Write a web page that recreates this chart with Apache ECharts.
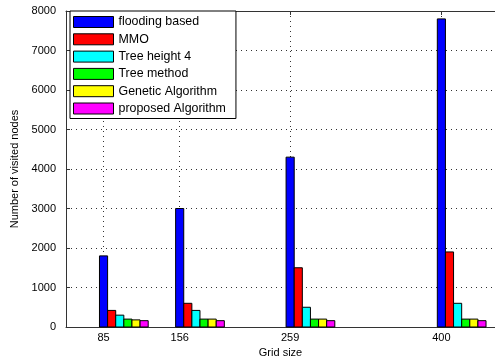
<!DOCTYPE html>
<html>
<head>
<meta charset="utf-8">
<script src="https://cdn.jsdelivr.net/npm/echarts@6/dist/echarts.min.js"></script>
<style>
  html, body { margin: 0; padding: 0; background: #fff; }
  #chart { width: 495px; height: 364px; }
</style>
</head>
<body>
<div id="chart"></div>
<script>
// Grid sizes on the x axis and the visited-node counts per method
const gridSizes = [85, 156, 259, 400];
const yTicks = [0, 1000, 2000, 3000, 4000, 5000, 6000, 7000, 8000];
const methodNames = ['flooding based', 'MMO', 'Tree height 4', 'Tree method', 'Genetic Algorithm', 'proposed Algorithm'];
const flooding = [1800, 3000, 4300, 7800];
const mmo = [420, 600, 1500, 1900];
const treeHeight4 = [300, 420, 500, 600];
const treeMethod = [200, 200, 200, 200];
const genetic = [180, 200, 200, 200];
const proposed = [160, 160, 160, 160];

const methodValues = [flooding, mmo, treeHeight4, treeMethod, genetic, proposed];
const colors = ['#0000ff', '#ff0000', '#00ffff', '#00ff00', '#ffff00', '#ff00ff'];
const barUnits = 7.57;   // bar width in x-axis units
const font = 'Liberation Sans, Arial, sans-serif';

const chart = echarts.init(document.getElementById('chart'), null, { renderer: 'canvas' });

// Each method is a custom series: bars sit side by side, the first one centred on the grid size
function makeSeries(idx) {
  return {
    name: methodNames[idx],
    type: 'custom',
    itemStyle: { color: colors[idx], borderColor: '#000', borderWidth: 1 },
    data: gridSizes.map((g, i) => [g, methodValues[idx][i]]),
    renderItem: function (params, api) {
      const x = api.value(0), y = api.value(1);
      const base = api.coord([x, 0]);
      const top = api.coord([x, y]);
      const w = api.size([barUnits, 0])[0];
      const cx = base[0] + idx * w;
      return {
        type: 'rect',
        shape: { x: cx - w / 2, y: top[1], width: w, height: base[1] - top[1] },
        style: { fill: colors[idx], stroke: '#000', lineWidth: 1 }
      };
    },
    z: 3
  };
}

const series = methodNames.map((n, i) => makeSeries(i));

const dotted = { color: '#333', width: 1, type: [1, 4] };

chart.setOption({
  animation: false,
  backgroundColor: '#fff',
  textStyle: { fontFamily: font },
  grid: { left: 66, right: -5, top: 11, bottom: 37, containLabel: false },
  legend: {
    orient: 'vertical',
    left: 70, top: 11,
    padding: [5, 10, 4, 3],
    itemWidth: 40, itemHeight: 11, itemGap: 5.3,
    icon: 'rect',
    backgroundColor: '#fff',
    borderColor: '#000', borderWidth: 1,
    textStyle: { fontFamily: font, fontSize: 12.4, color: '#000' },
    itemStyle: { borderColor: '#000', borderWidth: 1 },
    data: methodNames,
    z: 10
  },
  xAxis: [{
    type: 'value', min: 50, max: 450, position: 'bottom',
    name: 'Grid size', nameLocation: 'middle', nameGap: 20,
    nameTextStyle: { fontFamily: font, fontSize: 11, color: '#000' },
    axisLine: { lineStyle: { color: '#333', width: 1 } },
    axisTick: { inside: true, length: 4, customValues: gridSizes, lineStyle: { color: '#333' } },
    axisLabel: { customValues: gridSizes, fontFamily: font, fontSize: 11, color: '#000', margin: 5 },
    splitLine: { show: true, lineStyle: dotted }
  }, {
    type: 'value', min: 50, max: 450, position: 'top',
    axisLine: { show: true, lineStyle: { color: '#333', width: 1 } },
    axisTick: { inside: true, length: 4, customValues: gridSizes, lineStyle: { color: '#333' } },
    axisLabel: { show: false },
    splitLine: { show: false }
  }],
  yAxis: {
    type: 'value', min: 0, max: 8000, interval: 1000,
    name: 'Number of visited nodes', nameLocation: 'middle', nameGap: 40,
    nameTextStyle: { fontFamily: font, fontSize: 11, color: '#000' },
    axisLine: { show: true, lineStyle: { color: '#333', width: 1 } },
    axisTick: { show: true, inside: true, length: 4, lineStyle: { color: '#333' } },
    axisLabel: { fontFamily: font, fontSize: 11, color: '#000', margin: 10,
      formatter: v => (yTicks.indexOf(v) >= 0 ? String(v) : '') },
    splitLine: { show: true, lineStyle: dotted }
  },
  series: series
});
</script>
</body>
</html>
